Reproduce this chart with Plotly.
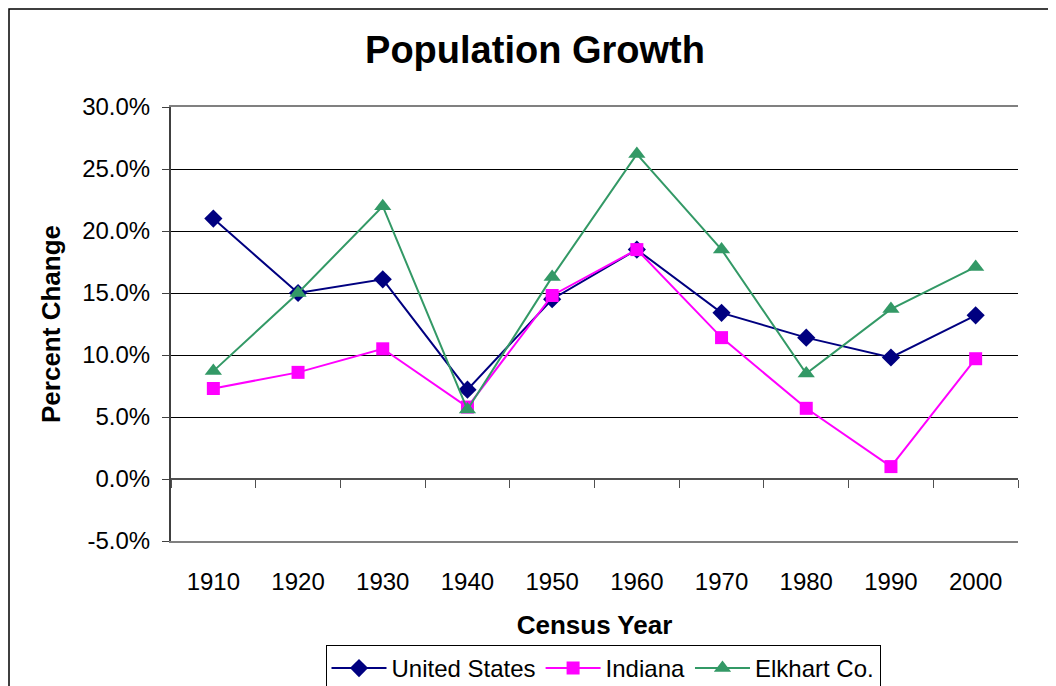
import plotly.graph_objects as go

years = ["1910", "1920", "1930", "1940", "1950", "1960", "1970", "1980", "1990", "2000"]
united_states = [0.210, 0.150, 0.161, 0.072, 0.145, 0.185, 0.134, 0.114, 0.098, 0.132]
indiana = [0.073, 0.086, 0.105, 0.058, 0.148, 0.185, 0.114, 0.057, 0.010, 0.097]
elkhart = [0.087, 0.150, 0.220, 0.056, 0.163, 0.262, 0.185, 0.085, 0.137, 0.171]
y_ticks = [-0.05, 0.0, 0.05, 0.10, 0.15, 0.20, 0.25, 0.30]
y_tick_labels = ["-5.0%", "0.0%", "5.0%", "10.0%", "15.0%", "20.0%", "25.0%", "30.0%"]

idx = list(range(len(years)))
boundaries = [i - 0.5 for i in range(len(years) + 1)]

FONT = "Liberation Sans, Arial, sans-serif"

fig = go.Figure()

series = [
    ("United States", united_states, "#000080", "diamond", 14),
    ("Indiana", indiana, "#FF00FF", "square", 13),
    ("Elkhart Co.", elkhart, "#339966", "triangle-up", 15),
]
for name, vals, color, sym, size in series:
    fig.add_trace(go.Scatter(
        x=idx, y=vals, name=name, mode="lines+markers",
        line=dict(color=color, width=2),
        marker=dict(symbol=sym, size=size, color=color, line=dict(width=0)),
    ))

# invisible trace to anchor the zero-line category axis
fig.add_trace(go.Scatter(
    x=idx, y=united_states, xaxis="x2", mode="markers",
    marker=dict(opacity=0), showlegend=False, hoverinfo="skip",
))

# page body adds an 8px offset; figure is sized/positioned to compensate
OFF = 8
W, H = 1056 - OFF, 686 - OFF
L, R, T = 171 - OFF, 1056 - 1018, 107 - OFF
B = H - (541 - OFF)
plot_h = H - T - B
plot_w = W - L - R
zero_pos = (0 - y_ticks[0]) / (y_ticks[-1] - y_ticks[0])

fig.update_layout(
    width=W, height=H,
    margin=dict(l=L, r=R, t=T, b=B, autoexpand=False),
    paper_bgcolor="white", plot_bgcolor="white",
    font=dict(family=FONT, size=24, color="black"),
    title=dict(text="<b>Population Growth</b>", font=dict(size=38, family=FONT),
               x=(535 - OFF) / W, xref="container", xanchor="center",
               y=1 - (50 - OFF) / H, yref="container", yanchor="middle"),
    showlegend=True,
    legend=dict(orientation="h", x=(603 - OFF) / W, xanchor="center", xref="container",
                y=1 - (645 - OFF) / H, yanchor="top", yref="container",
                bordercolor="black", borderwidth=1, bgcolor="white",
                font=dict(size=24, family=FONT), itemwidth=55,
                tracegroupgap=0),
    xaxis=dict(
        range=[-0.5, len(years) - 0.5], tickvals=idx, ticktext=years,
        showgrid=False, zeroline=False, showline=True, linecolor="#808080",
        linewidth=2, mirror=True, ticks="", ticklabelstandoff=18,
        title=dict(text="<b>Census Year</b>", font=dict(size=26, family=FONT), standoff=22),
        fixedrange=True,
    ),
    xaxis2=dict(
        overlaying="x", anchor="free", position=zero_pos, side="bottom",
        range=[-0.5, len(years) - 0.5], tickvals=boundaries, showticklabels=False,
        ticks="outside", ticklen=8, tickcolor="#505050", tickwidth=1,
        showgrid=False, zeroline=False, showline=True, linecolor="#505050", linewidth=1.5,
    ),
    yaxis=dict(
        range=[y_ticks[0], y_ticks[-1]], tickvals=y_ticks, ticktext=y_tick_labels,
        showgrid=True, gridcolor="black", gridwidth=1, zeroline=False,
        showline=True, linecolor="#404040", linewidth=2,
        ticks="outside", ticklen=7, tickcolor="#404040", tickwidth=1,
        ticklabelstandoff=7,
        title=dict(text="<b>Percent Change</b>", font=dict(size=26, family=FONT), standoff=14),
        fixedrange=True,
    ),
    yaxis2=dict(
        overlaying="y", side="right", range=[y_ticks[0], y_ticks[-1]],
        showline=True, linecolor="#808080", linewidth=2, showticklabels=False,
        ticks="", showgrid=False, zeroline=False,
    ),
    shapes=[dict(type="rect", xref="paper", yref="paper",
                 x0=(1 - L) / plot_w, x1=(1051 - OFF - L) / plot_w,
                 y0=-(H + 40 - T - plot_h) / plot_h, y1=(T + plot_h - 1) / plot_h,
                 line=dict(color="black", width=1.5), fillcolor="rgba(0,0,0,0)",
                 layer="below")],
)

fig.write_html("out.html")
